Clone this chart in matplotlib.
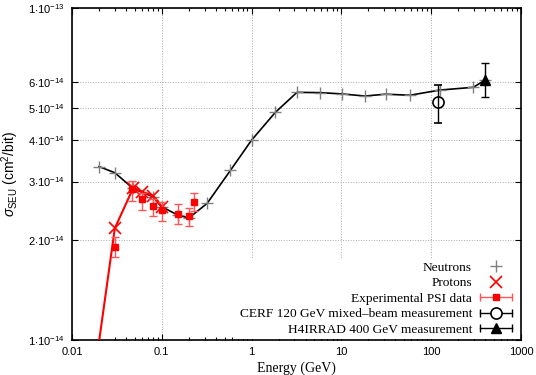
import matplotlib
matplotlib.use("Agg")
import matplotlib.pyplot as plt
import numpy as np
from matplotlib.lines import Line2D
from matplotlib.legend_handler import HandlerLine2D
from matplotlib.ticker import FixedLocator, LogLocator, NullLocator, NullFormatter

# Neutrons (simulation)
neutron_e = [0.02, 0.03, 0.048, 0.08, 0.1, 0.15, 0.2, 0.32, 0.58, 1.0, 1.84,
             3.2, 5.8, 10.2, 18.3, 31, 58, 125, 295, 400]
neutron_s = [3.33, 3.19, 2.86, 2.70, 2.52, 2.38, 2.33, 2.58, 3.24, 4.0, 4.85,
             5.57, 5.56, 5.51, 5.43, 5.50, 5.46, 5.66, 5.77, 6.07]

# Protons (simulation)
proton_e = [0.017, 0.03, 0.048, 0.06, 0.08, 0.1]
proton_s = [0.72, 2.17, 2.87, 2.80, 2.72, 2.52]

# Experimental PSI data
psi_e = [0.03, 0.047, 0.06, 0.08, 0.1, 0.15, 0.2, 0.23]
psi_s = [1.91, 2.84, 2.65, 2.53, 2.46, 2.40, 2.36, 2.60]
psi_lo = [1.78, 2.63, 2.46, 2.36, 2.28, 2.23, 2.21, 2.44]
psi_hi = [2.04, 3.01, 2.78, 2.66, 2.60, 2.56, 2.49, 2.78]

# CERF and H4IRRAD measurements
cerf_e, cerf_s, cerf_lo, cerf_hi = [120], [5.20], [4.51], [5.88]
h4_e, h4_s, h4_lo, h4_hi = [400], [6.07], [5.40], [6.83]

scale = 1e-14
yticks = [1, 2, 3, 4, 5, 6, 10]
ytick_labels = [r"$1{\cdot}10^{-14}$", r"$2{\cdot}10^{-14}$", r"$3{\cdot}10^{-14}$",
                r"$4{\cdot}10^{-14}$", r"$5{\cdot}10^{-14}$", r"$6{\cdot}10^{-14}$",
                r"$1{\cdot}10^{-13}$"]
xticks = [0.01, 0.1, 1, 10, 100, 1000]
xtick_labels = ["0.01", "0.1", "1", "10", "100", "1000"]

plt.rcParams["font.family"] = ["Liberation Sans", "DejaVu Sans"]
plt.rcParams["mathtext.fontset"] = "custom"
plt.rcParams["mathtext.rm"] = "Liberation Sans"
plt.rcParams["mathtext.it"] = "Liberation Sans:italic"
plt.rcParams["mathtext.sf"] = "Liberation Sans"

serif = ["Liberation Serif", "DejaVu Serif"]

fig = plt.figure(figsize=(5.36, 3.75), dpi=100)
ax = fig.add_axes([0.1343, 0.0933, 0.8377, 0.8854])


def arr(v):
    return np.array(v) * scale


# neutrons: black line, gray plus markers
ax.plot(neutron_e, arr(neutron_s), color="black", lw=1.2, zorder=3)
ax.plot(neutron_e, arr(neutron_s), ls="none", marker="+", ms=8, mew=1.0,
        color="#808080", zorder=4)

# protons
ax.plot(proton_e, arr(proton_s), color="#ff0000", lw=1.5, zorder=5)
ax.plot(proton_e, arr(proton_s), ls="none", marker="x", ms=8, mew=1.2,
        color="#ff0000", zorder=6)

# PSI
s = np.array(psi_s)
yerr = [(s - np.array(psi_lo)) * scale, (np.array(psi_hi) - s) * scale]
ax.errorbar(psi_e, s * scale, yerr=yerr, fmt="none", ecolor="#ff5555",
            elinewidth=1.0, capsize=3, capthick=1.0, zorder=6)
ax.plot(psi_e, s * scale, ls="none", marker="s", ms=4.5, color="#ff0000",
        zorder=7)

# CERF
c = np.array(cerf_s)
ax.errorbar(cerf_e, c * scale,
            yerr=[(c - np.array(cerf_lo)) * scale, (np.array(cerf_hi) - c) * scale],
            fmt="o", mfc="none", mec="black", ms=8, mew=1.2, ecolor="black",
            elinewidth=1.0, capsize=3, capthick=1.0, zorder=8)

# H4IRRAD
h = np.array(h4_s)
ax.errorbar(h4_e, h * scale,
            yerr=[(h - np.array(h4_lo)) * scale, (np.array(h4_hi) - h) * scale],
            fmt="^", color="black", ms=7, ecolor="black",
            elinewidth=1.0, capsize=3, capthick=1.0, zorder=8)

ax.set_xscale("log")
ax.set_yscale("log")
ax.set_xlim(0.01, 1000)
ax.set_ylim(1e-14, 1e-13)

ax.xaxis.set_major_locator(FixedLocator(xticks))
ax.set_xticklabels(xtick_labels)
ax.xaxis.set_minor_locator(LogLocator(base=10, subs=np.arange(2, 10)))
ax.xaxis.set_minor_formatter(NullFormatter())
ax.yaxis.set_major_locator(FixedLocator(np.array(yticks) * scale))
ax.set_yticklabels(ytick_labels)
ax.yaxis.set_minor_locator(NullLocator())

ax.tick_params(which="both", direction="in", top=True, right=True,
               labelsize=8, width=0.8)
ax.tick_params(which="major", length=4, pad=5)
ax.tick_params(which="minor", length=2)
for sp in ax.spines.values():
    sp.set_linewidth(1.2)

ax.grid(True, which="major", ls=":", color="#aaaaaa", lw=0.7)
ax.set_axisbelow(True)

ax.set_xlabel("Energy (GeV)", family=serif, fontsize=10, labelpad=3)
ax.set_ylabel(r"$\sigma_{\mathrm{SEU}}$ (cm$^{2}$/bit)", fontsize=10, labelpad=5)

# legend, gnuplot style (text first, sample to the right)
h_neu = Line2D([], [], ls="none", marker="+", ms=8, mew=1.0, color="#808080")
h_pro = Line2D([], [], ls="none", marker="x", ms=8, mew=1.2, color="#ff0000")
cap_psi = Line2D([], [], color="#ff5555", lw=1.0, marker="|", ms=6, mew=1.0)
mk_psi = Line2D([], [], ls="none", marker="s", ms=4.5, color="#ff0000")
cap_cerf = Line2D([], [], color="black", lw=1.0, marker="|", ms=6, mew=1.0)
mk_cerf = Line2D([], [], ls="none", marker="o", mfc="white", mec="black", ms=8, mew=1.2)
cap_h4 = Line2D([], [], color="black", lw=1.0, marker="|", ms=6, mew=1.0)
mk_h4 = Line2D([], [], ls="none", marker="^", color="black", ms=7)

hm = {cap_psi: HandlerLine2D(numpoints=2), cap_cerf: HandlerLine2D(numpoints=2),
      cap_h4: HandlerLine2D(numpoints=2)}
leg = ax.legend([h_neu, h_pro, (cap_psi, mk_psi), (cap_cerf, mk_cerf), (cap_h4, mk_h4)],
                ["Neutrons", "Protons", "Experimental PSI data",
                 "CERF 120 GeV mixed\u2013beam measurement",
                 "H4IRRAD 400 GeV measurement"],
                handler_map=hm, numpoints=1, markerfirst=False, loc="lower right",
                bbox_to_anchor=(0.995, 0.004), prop={"family": serif, "size": 9.6},
                frameon=True, fancybox=False, edgecolor="none", facecolor="white",
                framealpha=1.0, handlelength=3.0, handletextpad=0.3,
                labelspacing=0.24, borderpad=0.2, borderaxespad=0.0)
for t in leg.get_texts():
    t.set_ha("right")
leg._legend_box.align = "right"
leg.set_zorder(2)

fig.savefig("out.png", dpi=100)
